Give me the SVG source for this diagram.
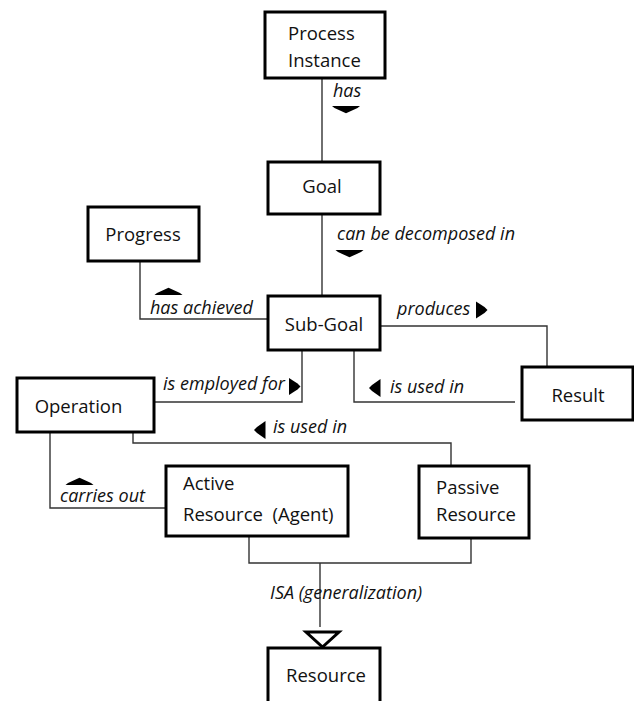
<svg xmlns="http://www.w3.org/2000/svg" xmlns:xlink="http://www.w3.org/1999/xlink" width="634" height="701" viewBox="0 0 634 701">
  <style>
    .box { fill: #ffffff; stroke: #000000; stroke-width: 3; }
    .name { font-family: "Open Sans", "Liberation Sans", sans-serif; font-size: 18.5px; fill: #111111; }
    .mid { text-anchor: middle; }
    .link { fill: none; stroke: #333333; stroke-width: 1.4; }
    .rel { font-family: "Open Sans", "Liberation Sans", sans-serif; font-size: 18px; font-style: italic; fill: #111111; }
    .dir { fill: #000000; }
  </style>
  <defs>
    <!-- filled direction marks for relation reading order -->
    <path id="mark-down" d="M-14,-3.5 H14 L11.5,-1.5 L0,3.8 L-11.5,-1.5 Z"/>
    <path id="mark-up" d="M-14,3.5 H14 L11.5,1.5 L0,-3.8 L-11.5,1.5 Z"/>
    <path id="mark-right" d="M-5.5,-8.5 V8.5 L3,3 L6,0 L3,-3 Z"/>
    <path id="mark-left" d="M5.5,-9 V9 L-3,3 L-6,0 L-3,-3 Z"/>
  </defs>

  <!-- connectors -->
  <g id="connectors">
    <path class="link" d="M322,78 V162"/>
    <path class="link" d="M322,214 V296"/>
    <path class="link" d="M140,261 V319 H268"/>
    <path class="link" d="M380,326 H547 V367"/>
    <path class="link" d="M354,350 V402 H515"/>
    <path class="link" d="M154,402 H302 V350"/>
    <path class="link" d="M133,432 V443 H451 V466"/>
    <path class="link" d="M50,432 V508 H166"/>
    <path class="link" d="M249,536 V563 H471 V538"/>
    <path class="link" d="M320,563 V627"/>
    <path d="M306,632 H339 L322.5,647 Z" fill="#ffffff" stroke="#000000" stroke-width="3" stroke-linejoin="miter"/>

    <text class="rel" x="333" y="97">has</text>
    <use xlink:href="#mark-down" class="dir" x="346" y="109.5"/>

    <text class="rel" x="337" y="240">can be decomposed in</text>
    <use xlink:href="#mark-down" class="dir" x="349.5" y="253.5"/>

    <text class="rel" x="150" y="314">has achieved</text>
    <use xlink:href="#mark-up" class="dir" x="168.5" y="291.5"/>

    <text class="rel" x="397" y="315">produces</text>
    <use xlink:href="#mark-right" class="dir" x="481.5" y="310"/>

    <text class="rel" x="390" y="393">is used in</text>
    <use xlink:href="#mark-left" class="dir" x="375" y="388"/>

    <text class="rel" x="163" y="390">is employed for</text>
    <use xlink:href="#mark-right" class="dir" x="294.5" y="386.5"/>

    <text class="rel" x="273" y="433">is used in</text>
    <use xlink:href="#mark-left" class="dir" x="260" y="430"/>

    <text class="rel" x="60" y="502">carries out</text>
    <use xlink:href="#mark-up" class="dir" x="79.5" y="481.5"/>

    <text class="rel" x="270" y="599">ISA (generalization)</text>
  </g>

  <!-- nodes -->
  <g id="process-instance">
    <rect class="box" x="265" y="12" width="120" height="66"/>
    <text class="name" x="288" y="40">Process</text>
    <text class="name" x="288" y="67">Instance</text>
  </g>
  <g id="goal">
    <rect class="box" x="268" y="162" width="112" height="52"/>
    <text class="name mid" x="322" y="193">Goal</text>
  </g>
  <g id="progress">
    <rect class="box" x="88" y="207" width="111" height="54"/>
    <text class="name mid" x="143" y="241">Progress</text>
  </g>
  <g id="sub-goal">
    <rect class="box" x="268" y="296" width="112" height="54"/>
    <text class="name mid" x="324" y="331">Sub-Goal</text>
  </g>
  <g id="result">
    <rect class="box" x="522" y="367" width="111" height="53"/>
    <text class="name mid" x="578" y="402">Result</text>
  </g>
  <g id="operation">
    <rect class="box" x="17" y="378" width="137" height="54"/>
    <text class="name mid" x="78.5" y="413">Operation</text>
  </g>
  <g id="active-resource">
    <rect class="box" x="166" y="466" width="182" height="70"/>
    <text class="name" x="183" y="490">Active</text>
    <text class="name" x="183" y="521" xml:space="preserve">Resource  (Agent)</text>
  </g>
  <g id="passive-resource">
    <rect class="box" x="419" y="466" width="110" height="72"/>
    <text class="name" x="436" y="494">Passive</text>
    <text class="name" x="436" y="521">Resource</text>
  </g>
  <g id="resource">
    <rect class="box" x="268" y="648" width="112" height="60"/>
    <text class="name mid" x="326" y="682">Resource</text>
  </g>
</svg>
